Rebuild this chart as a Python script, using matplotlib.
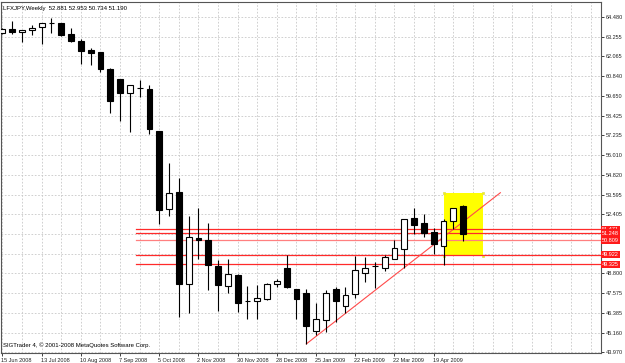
import matplotlib
matplotlib.use('Agg')
import matplotlib.pyplot as plt
import matplotlib.transforms as mtransforms

plt.rcParams['font.family'] = ['Liberation Sans', 'DejaVu Sans']

# weekly LFXJPY candles, bar 0 = week of 15 Jun 2008
opens = [63.48, 63.73, 63.56, 63.67, 63.85, 64.09, 64.09, 63.42, 63.03, 62.44,
         62.32, 61.31, 60.68, 59.83, 60.11, 60.07, 57.50, 52.70, 53.74, 48.13,
         50.95, 50.82, 49.23, 48.01, 48.71, 47.09, 47.09, 47.19, 48.13, 49.09,
         47.84, 47.55, 45.28, 45.91, 47.82, 46.80, 47.52, 48.80, 49.21, 49.11,
         49.68, 50.25, 52.17, 51.85, 51.33, 50.48, 52.01, 52.881]
highs = [63.80, 64.24, 63.70, 63.99, 64.14, 64.40, 64.10, 63.79, 63.11, 62.56,
         62.34, 61.33, 60.70, 60.34, 60.62, 60.32, 57.50, 55.56, 54.60, 52.29,
         52.78, 51.85, 49.60, 49.68, 48.72, 48.01, 48.09, 48.21, 48.44, 49.91,
         47.85, 47.81, 46.97, 47.76, 47.93, 47.93, 49.84, 49.76, 49.50, 49.91,
         50.82, 52.14, 52.78, 52.40, 51.54, 52.09, 52.81, 52.953]
lows = [63.42, 63.44, 62.97, 63.36, 62.83, 63.52, 63.32, 62.97, 61.60, 61.54,
        61.13, 58.58, 58.13, 57.46, 59.56, 57.30, 51.80, 52.29, 46.13, 46.37,
        49.64, 47.76, 46.50, 47.56, 46.40, 45.97, 45.99, 47.17, 47.93, 47.90,
        45.97, 44.46, 45.01, 45.21, 45.82, 46.34, 47.27, 48.25, 47.88, 48.94,
        49.67, 49.09, 51.17, 51.03, 49.97, 49.31, 51.50, 50.734]
closes = [63.73, 63.56, 63.68, 63.82, 64.13, 64.10, 63.38, 63.03, 62.42, 62.29,
          61.28, 59.35, 59.83, 60.33, 60.11, 57.60, 52.66, 53.68, 48.13, 50.99,
          50.81, 49.27, 48.05, 48.74, 46.98, 47.09, 47.27, 48.13, 48.31, 47.93,
          47.19, 45.57, 46.00, 47.56, 47.11, 47.44, 48.97, 49.11, 49.21, 49.77,
          50.32, 52.13, 51.76, 51.27, 50.60, 51.97, 52.80, 51.190]

date_labels = ['15 Jun 2008', '13 Jul 2008', '10 Aug 2008', '7 Sep 2008',
               '5 Oct 2008', '2 Nov 2008', '30 Nov 2008', '28 Dec 2008',
               '25 Jan 2009', '22 Feb 2009', '22 Mar 2009', '19 Apr 2009']

price_ticks = [64.480, 63.255, 62.065, 60.840, 59.650, 58.425, 57.235, 56.010,
               54.820, 53.595, 52.405, 51.215, 49.990, 48.800, 47.575, 46.385,
               45.160, 43.970]

levels = [51.471, 51.248, 50.809, 49.922, 49.325]
level_colors = ['#ff2a2a', '#ff2a2a', '#ff8080', '#ff2a2a', '#ff2a2a']

trend_x = [31, 50.8]
trend_y = [44.46, 53.72]

box_x = [45, 49.06]
box_y = [49.86, 53.72]

fig = plt.figure(figsize=(6.25, 3.63), dpi=100)
ax = fig.add_axes([1 / 625, 10 / 363, 600 / 625, 351 / 363])
ax.set_xlim(-0.15, 61.07)
ax.set_ylim(43.905, 65.40)

# grid
for xg in range(0, 62, 2):
  ax.axvline(xg, color='#c8c8c8', lw=0.6, ls=(0, (2, 2)), zorder=0)
for yg in price_ticks:
  ax.axhline(yg, color='#c8c8c8', lw=0.6, ls=(0, (2, 2)), zorder=0)

# yellow highlight box
ax.fill_between(box_x, box_y[0], box_y[1], color='#ffff00', lw=0, zorder=1)
ax.plot([box_x[0], box_x[1], box_x[0], box_x[1]],
        [box_y[0], box_y[0], box_y[1], box_y[1]],
        ls='none', marker='s', ms=2, mfc='#ffff00', mec='#d8d860', mew=0.5, zorder=1)

# support / resistance lines
for lv, c in zip(levels, level_colors):
  ax.plot([13.6, 61.07], [lv, lv], color=c, lw=0.9, zorder=2)

# trendline
ax.plot(trend_x, trend_y, color='#ff4a4a', lw=0.8, zorder=2)

# candles
idx = list(range(len(opens)))
ax.vlines(idx, lows, highs, color='black', lw=0.8, zorder=3)
bottoms = [min(o, c) for o, c in zip(opens, closes)]
heights = [abs(c - o) for o, c in zip(opens, closes)]
fills = ['white' if c > o else 'black' for o, c in zip(opens, closes)]
ax.bar(idx, heights, bottom=bottoms, width=0.6, color=fills,
       edgecolor='black', lw=0.8, zorder=4)

# axes styling
for sp in ax.spines.values():
  sp.set_color('#555555')
  sp.set_linewidth(0.8)
ax.yaxis.tick_right()
ax.set_yticks(price_ticks)
ax.set_yticklabels(['' if t in (51.215, 49.990) else '%.3f' % t for t in price_ticks])
ax.tick_params(axis='y', direction='out', length=2.5, width=0.6, pad=0.8,
               labelsize=4.0, colors='#222222')
ax.set_xticks(range(0, 48, 4))
ax.set_xticklabels(date_labels, ha='left')
ax.tick_params(axis='x', direction='out', length=2.5, width=0.6, pad=1,
               labelsize=4.0, colors='#222222')
offset = mtransforms.ScaledTranslation(-1 / 100, 0, fig.dpi_scale_trans)
for lab in ax.get_xticklabels():
  lab.set_transform(lab.get_transform() + offset)

# price tags for levels
for lv in levels:
  ax.text(1.002, lv, '%.3f' % lv, transform=ax.get_yaxis_transform(),
          fontsize=4.0, color='white', va='center', ha='left',
          bbox=dict(boxstyle='square,pad=0.2', fc='#ff1a1a', ec='none'),
          clip_on=False, zorder=6)

ax.text(0.004, 0.99, 'LFXJPY,Weekly  52.881 52.953 50.734 51.190',
        transform=ax.transAxes, fontsize=4.3, va='top', ha='left', color='black')
ax.text(0.004, 0.015, 'SIGTrader 4, \u00a9 2001-2008 MetaQuotes Software Corp.',
        transform=ax.transAxes, fontsize=4.3, va='bottom', ha='left', color='black')

fig.savefig('out.png', dpi=100)
